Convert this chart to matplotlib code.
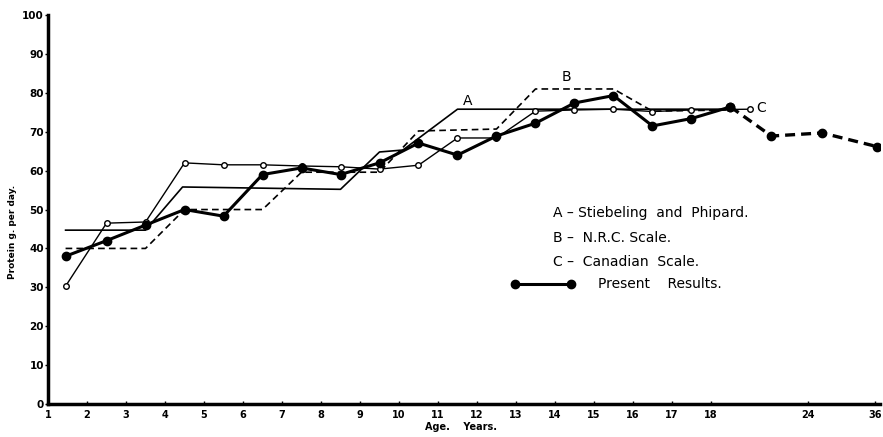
import matplotlib.pyplot as plt

# x values are chart positions: ages 1-18 map directly, adults sit past a scale break
tick_pos = list(range(1, 19)) + [20.5, 22.2]
tick_labels = [str(a) for a in range(1, 19)] + ["24", "36"]

# Present results (children, half-year midpoints) and adults (dashed)
present_x = [1.45, 2.5, 3.5, 4.5, 5.5, 6.5, 7.5, 8.5, 9.5, 10.5, 11.5, 12.5,
             13.5, 14.5, 15.5, 16.5, 17.5, 18.5]
present_y = [38, 42, 46, 50, 48.3, 59, 60.7, 59, 62, 67.1, 64, 68.9,
             72.2, 77.4, 79.3, 71.5, 73.4, 76.4]
adult_x = [18.5, 19.55, 20.85, 22.25]
adult_y = [76.4, 68.9, 69.7, 66.2]

# A - Stiebeling and Phipard
stieb_x = [1.45, 3.5, 4.45, 8.5, 9.5, 10.1, 11.5, 18.5]
stieb_y = [44.7, 44.7, 55.8, 55.2, 64.8, 65.3, 75.8, 75.8]

# B - N.R.C. Scale
nrc_x = [1.45, 3.5, 4.5, 6.5, 7.5, 9.5, 10.5, 12.5, 13.5, 15.5, 16.5, 18.5]
nrc_y = [40, 40, 50, 50, 59.6, 59.6, 70.2, 70.7, 81, 81, 75.3, 75.6]

# C - Canadian Scale
can_x = [1.45, 2.5, 3.5, 4.5, 5.5, 6.5, 7.5, 8.5, 9.5, 10.5, 11.5, 12.5,
         13.5, 14.5, 15.5, 16.5, 17.5, 19.0]
can_y = [30.3, 46.5, 46.8, 62, 61.5, 61.5, 61.2, 61, 60.4, 61.4, 68.4, 68.4,
         75.3, 75.6, 75.8, 75.2, 75.6, 75.8]

fig = plt.figure(figsize=(8.83, 4.37), dpi=100)
ax = fig.add_axes([0.0544, 0.0755, 0.942, 0.89])

ax.plot(stieb_x, stieb_y, color="black", lw=1.2)
ax.plot(nrc_x, nrc_y, color="black", lw=1.2, ls=(0, (4, 2.5)))
ax.plot(can_x, can_y, color="black", lw=1.0, marker="o", ms=4,
        mfc="white", mec="black", mew=1.0)
ax.plot(adult_x, adult_y, color="black", lw=2.4, ls=(0, (3, 1.8)),
        marker="o", ms=6)
ax.plot(present_x, present_y, color="black", lw=2.2, marker="o", ms=6)

ax.text(11.75, 76, "A", fontsize=10, ha="center", va="bottom")
ax.text(14.3, 82.2, "B", fontsize=10, ha="center", va="bottom")
ax.text(19.15, 76, "C", fontsize=10, ha="left", va="center")

# legend drawn as text, like the original plate
leg_x = 13.95
ax.text(leg_x, 49, "A \u2013 Stiebeling  and  Phipard.", fontsize=10, va="center")
ax.text(leg_x, 42.8, "B \u2013  N.R.C. Scale.", fontsize=10, va="center")
ax.text(leg_x, 36.6, "C \u2013  Canadian  Scale.", fontsize=10, va="center")
ax.plot([12.98, 14.42], [30.8, 30.8], color="black", lw=2.2, marker="o", ms=6)
ax.text(15.1, 30.8, "Present    Results.", fontsize=10, va="center")

ax.set_xlim(1, 22.33)
ax.set_ylim(0, 100)
ax.set_xticks(tick_pos)
ax.set_xticklabels(tick_labels, fontsize=7, fontweight="bold")
ax.set_yticks(range(0, 101, 10))
ax.set_yticklabels([str(v) for v in range(0, 101, 10)], fontsize=7.5,
                   fontweight="bold")
ax.tick_params(axis="x", direction="in", length=2.5, width=1, pad=4)
ax.tick_params(axis="y", direction="out", length=2, width=1, pad=1)

for side in ["top", "right"]:
    ax.spines[side].set_visible(False)
ax.spines["left"].set_linewidth(2.5)
ax.spines["bottom"].set_linewidth(2.5)

fig.text(0.014, 0.47, "Protein g. per day.", rotation=90, fontsize=6.5,
         fontweight="bold", ha="center", va="center")
fig.text(0.522, 0.012, "Age.    Years.", fontsize=7, fontweight="bold",
         ha="center", va="bottom")

fig.savefig("out.png", dpi=100)
